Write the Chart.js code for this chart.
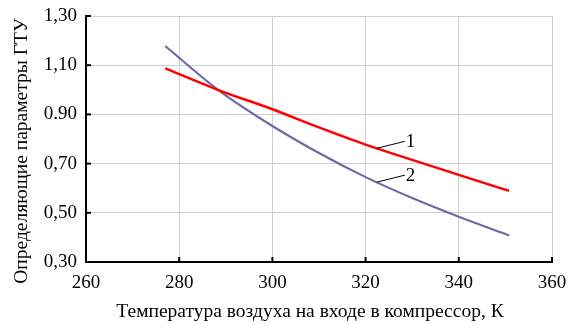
<!DOCTYPE html>
<html>
<head>
<meta charset="utf-8">
<script src="https://cdn.jsdelivr.net/npm/chart.js@4/dist/chart.umd.min.js"></script>
<style>
html,body{margin:0;padding:0;background:#fff;}
#wrap{width:569px;height:324px;}
</style>
</head>
<body>
<div id="wrap"><canvas id="c" width="569" height="324"></canvas></div>
<script>
const xTickValues = [260, 280, 300, 320, 340, 360];
const yTickValues = [0.30, 0.50, 0.70, 0.90, 1.10, 1.30];
const yTickLabels = ["0,30", "0,50", "0,70", "0.90", "1,10", "1,30"];
const xTickLabels = ["260", "280", "300", "320", "340", "360"];

const temps1 = [277, 288.4, 300, 310, 320, 330, 340, 350.8];
const series1 = [1.087, 0.999, 0.921, 0.847, 0.777, 0.715, 0.654, 0.589];
const temps2 = [277, 288.4, 300, 310, 320, 330, 340, 350.8];
const series2 = [1.178, 0.999, 0.853, 0.743, 0.645, 0.560, 0.484, 0.408];

const labelNames = ["1", "2"];
const labelAnchorX = [322.4, 322.4];

const xAxisTitle = "Температура воздуха на входе в компрессор, К";
const yAxisTitle = "Определяющие параметры ГТУ";

const FONT = "'Liberation Serif', 'DejaVu Serif', serif";

function interp(xs, ys, x){
  for (let i=0;i<xs.length-1;i++){
    if (x>=xs[i] && x<=xs[i+1]){
      const t=(x-xs[i])/(xs[i+1]-xs[i]);
      return ys[i]+t*(ys[i+1]-ys[i]);
    }
  }
  return ys[ys.length-1];
}

const extras = {
  id: 'extras',
  afterDraw(chart){
    const ctx = chart.ctx;
    const xs = chart.scales.x, ys = chart.scales.y;
    const a = chart.chartArea;
    ctx.save();
    ctx.strokeStyle = '#000';
    ctx.lineWidth = 2;
    yTickValues.forEach(v=>{
      const py = ys.getPixelForValue(v);
      ctx.beginPath(); ctx.moveTo(a.left, py); ctx.lineTo(a.left+5, py); ctx.stroke();
    });
    xTickValues.forEach(v=>{
      const px = xs.getPixelForValue(v);
      ctx.beginPath(); ctx.moveTo(px, a.bottom); ctx.lineTo(px, a.bottom-5); ctx.stroke();
    });
    const dataSets = [[temps1, series1],[temps2, series2]];
    ctx.lineWidth = 1;
    ctx.strokeStyle = '#000';
    ctx.fillStyle = '#000';
    ctx.font = "19px " + FONT;
    ctx.textBaseline = 'middle';
    ctx.textAlign = 'left';
    labelNames.forEach((n,i)=>{
      const [tx, ty] = dataSets[i];
      const vx = labelAnchorX[i];
      const px = xs.getPixelForValue(vx);
      const py = ys.getPixelForValue(interp(tx, ty, vx));
      ctx.beginPath(); ctx.moveTo(px, py); ctx.lineTo(px+28, py-7); ctx.stroke();
      ctx.fillText(n, px+29, py-6);
    });
    ctx.font = "19.5px " + FONT;
    ctx.textAlign = 'center';
    ctx.textBaseline = 'middle';
    ctx.fillText(xAxisTitle, (a.left + a.right)/2 - 9, 312);
    ctx.translate(22, (a.top + a.bottom)/2 + 12);
    ctx.rotate(-Math.PI/2);
    ctx.fillText(yAxisTitle, 0, 0);
    ctx.restore();
  }
};

new Chart(document.getElementById('c'), {
  type: 'scatter',
  data: {
    datasets: [
      {
        data: temps1.map((t,i)=>({x:t, y:series1[i]})),
        showLine: true, borderColor: '#ff0000', borderWidth: 2.5,
        pointRadius: 0, cubicInterpolationMode: 'monotone', fill: false
      },
      {
        data: temps2.map((t,i)=>({x:t, y:series2[i]})),
        showLine: true, borderColor: '#6b6ba6', borderWidth: 2.2,
        pointRadius: 0, cubicInterpolationMode: 'monotone', fill: false
      }
    ]
  },
  options: {
    responsive: false,
    animation: false,
    layout: { padding: { left: 0, right: 17, top: 16, bottom: 0 } },
    plugins: { legend: { display: false }, tooltip: { enabled: false } },
    scales: {
      x: {
        type: 'linear', min: 260, max: 360,
        afterBuildTicks(s){ s.ticks = xTickValues.map(v=>({value:v})); },
        afterFit(s){ s.height = 62; s.paddingLeft = 0; s.paddingRight = 0; },
        ticks: {
          color: '#000', font: { family: FONT, size: 19 }, padding: 10,
          callback: (v)=>{ const i = xTickValues.indexOf(v); return i>=0 ? xTickLabels[i] : ''; }
        },
        grid: { color: '#d0d0d0', lineWidth: 1, drawTicks: false },
        border: { color: '#000', width: 2 }
      },
      y: {
        type: 'linear', min: 0.30, max: 1.30,
        afterBuildTicks(s){ s.ticks = yTickValues.map(v=>({value:v})); },
        afterFit(s){ s.width = 86; s.paddingTop = 0; s.paddingBottom = 0; },
        ticks: {
          color: '#000', font: { family: FONT, size: 19 }, padding: 9,
          callback: (v)=>{ const i = yTickValues.findIndex(t=>Math.abs(t-v)<1e-6); return i>=0 ? yTickLabels[i] : ''; }
        },
        grid: { color: '#d0d0d0', lineWidth: 1, drawTicks: false },
        border: { color: '#000', width: 2 }
      }
    }
  },
  plugins: [extras]
});
</script>
</body>
</html>
